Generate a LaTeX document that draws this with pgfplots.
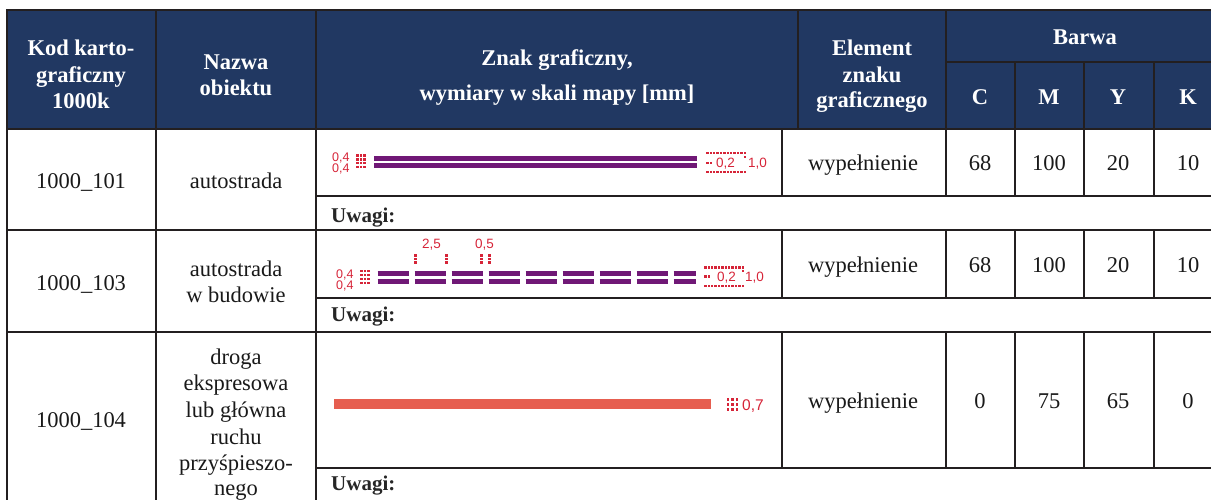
\documentclass[border=0pt]{standalone}
\usepackage{pgfplots}
\pgfplotsset{compat=1.18}
\usepackage{fontspec}
\setmainfont{Liberation Serif}
\newfontfamily\labfont{Liberation Sans}
\definecolor{hdr}{RGB}{33,56,98}
\definecolor{gridc}{RGB}{35,31,32}
\definecolor{purp}{RGB}{112,24,118}
\definecolor{roadred}{RGB}{230,94,80}
\definecolor{dimred}{RGB}{214,36,56}
\tikzset{
  hd/.style={font=\fontsize{22.5}{27}\selectfont\bfseries, text=white, anchor=base, inner sep=0pt},
  bd/.style={font=\fontsize{22.5}{27}\selectfont, text=black!90, anchor=base, inner sep=0pt},
  uw/.style={font=\fontsize{21}{25}\selectfont\bfseries, text=black!85, anchor=base west, inner sep=0pt},
  lb/.style={font=\labfont\fontsize{13.5}{14}\selectfont, text=dimred, anchor=base west, inner sep=0pt},
  lbs/.style={font=\labfont\fontsize{12.5}{9.5}\selectfont, text=dimred, anchor=north west, inner sep=0pt, align=left},
}
\pgfplotsset{dots/.style={only marks, mark=square*, mark size=0.7pt, color=dimred}}
\newcommand\seg[4]{\addplot[gridc, line width=2.3pt, line cap=rect] coordinates {(#1,#2) (#3,#4)};}
\newcommand\vbody[1]{\seg{#1}{129}{#1}{196}\seg{#1}{230}{#1}{298}\seg{#1}{332}{#1}{468}}
\begin{document}
\begin{tikzpicture}
\useasboundingbox (0,0) rectangle (1211pt,499pt);
\clip (0,0) rectangle (1211pt,499pt);
\begin{axis}[at={(0,0)}, anchor=south west, width=1211pt, height=499pt, scale only axis,
  xmin=0, xmax=1211, ymin=0, ymax=499, y dir=reverse, hide axis, clip=false]
% header background
\addplot[fill=hdr, draw=none] coordinates {(7,10) (1230,10) (1230,129) (7,129)} -- cycle;
% grid
\seg{7}{10}{1230}{10}
\seg{946}{62}{1230}{62}
\seg{7}{129}{1230}{129}
\seg{316}{196}{1230}{196}
\seg{7}{230}{1230}{230}
\seg{316}{298}{1230}{298}
\seg{7}{332}{1230}{332}
\seg{316}{468}{1230}{468}
\seg{7}{10}{7}{520}
\seg{156}{10}{156}{520}
\seg{316}{10}{316}{520}
\seg{798}{10}{798}{129}
\seg{946}{10}{946}{129}
\seg{1015}{62}{1015}{129}
\seg{1084}{62}{1084}{129}
\seg{1154}{62}{1154}{129}
\vbody{782}\vbody{946}\vbody{1015}\vbody{1084}\vbody{1154}
% header text
\node[hd] at (81,55) {Kod karto-};
\node[hd] at (81,82) {graficzny};
\node[hd] at (81,108) {1000k};
\node[hd] at (236,69) {Nazwa};
\node[hd] at (236,95) {obiektu};
\node[hd] at (557,65) {Znak graficzny,};
\node[hd] at (557,100) {wymiary w skali mapy [mm]};
\node[hd] at (872,55) {Element};
\node[hd] at (872,82) {znaku};
\node[hd] at (872,107) {graficznego};
\node[hd] at (1085,44) {Barwa};
\node[hd] at (980,104) {C};
\node[hd] at (1049,104) {M};
\node[hd] at (1118,104) {Y};
\node[hd] at (1188,104) {K};
% row 1
\node[bd] at (81,188) {1000\_101};
\node[bd] at (236,188) {autostrada};
\node[bd] at (863,170) {wypełnienie};
\node[bd] at (980,170) {68};
\node[bd] at (1049,170) {100};
\node[bd] at (1118,170) {20};
\node[bd] at (1188,170) {10};
\node[uw] at (331,222) {Uwagi:};
% row 2
\node[bd] at (81,290) {1000\_103};
\node[bd] at (236,276) {autostrada};
\node[bd] at (236,302) {w budowie};
\node[bd] at (863,272) {wypełnienie};
\node[bd] at (980,272) {68};
\node[bd] at (1049,272) {100};
\node[bd] at (1118,272) {20};
\node[bd] at (1188,272) {10};
\node[uw] at (331,321) {Uwagi:};
% row 3
\node[bd] at (81,427) {1000\_104};
\node[bd] at (236,364) {droga};
\node[bd] at (236,390) {ekspresowa};
\node[bd] at (236,417) {lub główna};
\node[bd] at (236,444) {ruchu};
\node[bd] at (236,470) {przyśpieszo-};
\node[bd] at (236,495) {nego};
\node[bd] at (863,408) {wypełnienie};
\node[bd] at (980,408) {0};
\node[bd] at (1049,408) {75};
\node[bd] at (1118,408) {65};
\node[bd] at (1188,408) {0};
\node[uw] at (331,490) {Uwagi:};
% symbol 1: double line
\addplot[purp, line width=5pt] coordinates {(374,158.2) (697,158.2)};
\addplot[purp, line width=5pt] coordinates {(374,165.8) (697,165.8)};
\node[lbs] at (332,152.5) {0,4\\0,4};
\addplot[dots] coordinates {(357.3,155) (360.7,155) (364.3,155) (357.3,159) (360.7,159) (364.3,159)
  (357.3,162.7) (360.7,162.7) (364.3,162.7) (357.3,166.7) (360.7,166.7) (364.3,166.7)};
\addplot[dots] coordinates {(707,152.7) (710.4,152.7) (713.8,152.7) (717.2,152.7) (720.6,152.7) (724,152.7)
  (727.4,152.7) (730.8,152.7) (734.2,152.7) (737.6,152.7) (741,152.7) (744.4,152.7)
  (707,171.7) (710.4,171.7) (713.8,171.7) (717.2,171.7) (720.6,171.7) (724,171.7)
  (727.4,171.7) (730.8,171.7) (734.2,171.7) (737.6,171.7) (741,171.7) (744.4,171.7)
  (707,162.5) (710.5,162.5) (744.4,156.5)};
\node[lb] at (716,167.5) {0,2};
\node[lb] at (748,167.5) {1,0};
% symbol 2: dashed double line
\addplot[purp, line width=4.8pt, dash pattern=on 31pt off 6pt] coordinates {(377.7,273.8) (695.7,273.8)};
\addplot[purp, line width=4.8pt, dash pattern=on 31pt off 6pt] coordinates {(377.7,281.3) (695.7,281.3)};
\node[lbs] at (336,269.5) {0,4\\0,4};
\addplot[dots] coordinates {(361,270.5) (364.5,270.5) (368,270.5) (361,274.5) (364.5,274.5) (368,274.5)
  (361,278.5) (364.5,278.5) (368,278.5) (361,282.5) (364.5,282.5) (368,282.5)};
\addplot[dots] coordinates {(705,267) (708.4,267) (711.8,267) (715.2,267) (718.6,267) (722,267)
  (725.4,267) (728.8,267) (732.2,267) (735.6,267) (739,267) (742.4,267)
  (705,285.7) (708.4,285.7) (711.8,285.7) (715.2,285.7) (718.6,285.7) (722,285.7)
  (725.4,285.7) (728.8,285.7) (732.2,285.7) (735.6,285.7) (739,285.7) (742.4,285.7)
  (705,276.3) (708.5,276.3) (742.4,270.5)};
\node[lb] at (717,281.5) {0,2};
\node[lb] at (745,281.5) {1,0};
\node[lb] at (422,248) {2,5};
\node[lb] at (475,248) {0,5};
\addplot[dots] coordinates {(415,255) (415,258.5) (415,262) (446,255) (446,258.5) (446,262)
  (481,255) (481,258.5) (481,262) (489.3,255) (489.3,258.5) (489.3,262)};
% symbol 3: red line
\addplot[roadred, line width=10pt] coordinates {(334,404.3) (711,404.3)};
\addplot[dots] coordinates {(727.7,399.3) (732.3,399.3) (736.7,399.3) (727.7,404.3) (732.3,404.3) (736.7,404.3)
  (727.7,409.3) (732.3,409.3) (736.7,409.3)};
\node[lb, font=\labfont\fontsize{15.5}{16}\selectfont] at (742,410.5) {0,7};
\end{axis}
\end{tikzpicture}
\end{document}
